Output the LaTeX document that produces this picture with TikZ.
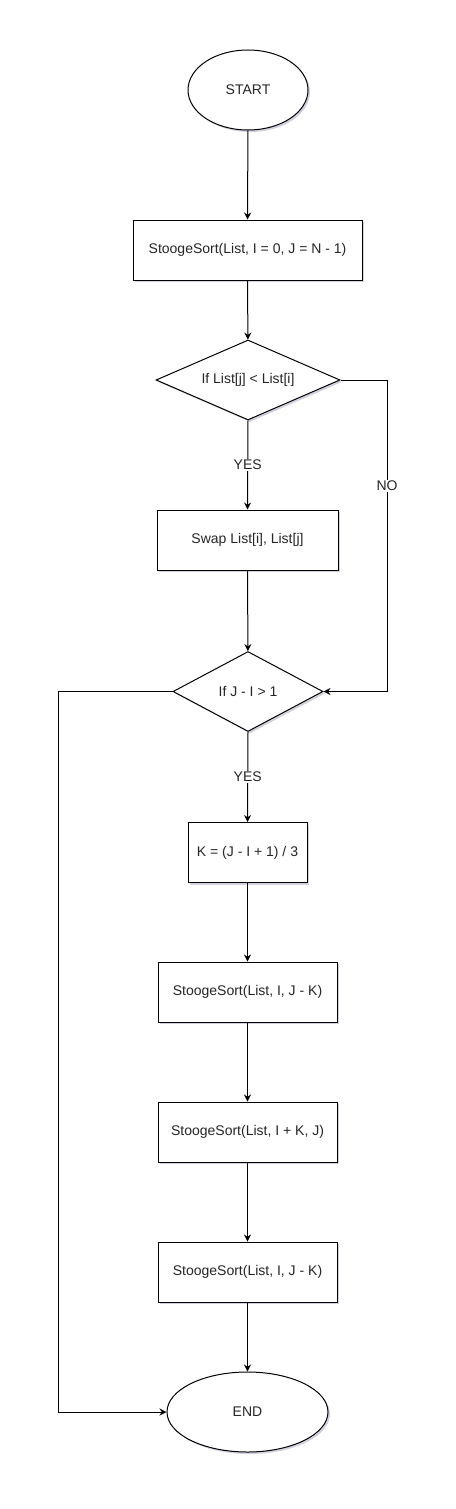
\documentclass[tikz,border=0pt]{standalone}
\usepackage{fontspec}
\setmainfont{Liberation Sans}
\usetikzlibrary{shapes.geometric,arrows.meta,shadows}
\begin{document}
\begin{tikzpicture}[x=1pt,y=-1pt,
  font=\fontsize{14}{16}\selectfont,
  every node/.style={text=black!85},
  shade/.style={drop shadow={shadow xshift=2pt,shadow yshift=-2pt,fill=blue!30!black,opacity=0.18}},
  terminal/.style={ellipse,draw,fill=white,line width=1pt,inner sep=0pt,shade},
  procbox/.style={rectangle,draw,fill=white,line width=1pt,minimum height=60pt,inner sep=0pt,shade},
  decision/.style={diamond,draw,fill=white,line width=1pt,inner sep=0pt,minimum height=80pt,shade},
  conn/.style={draw,line width=1pt,-{Stealth[length=7pt,width=7pt]}},
  lbl/.style={fill=white,inner sep=1pt,font=\fontsize{14}{16}\selectfont}
]
\useasboundingbox (0,0) rectangle (455,1509);
\node[terminal,minimum width=120pt,minimum height=80pt] (start) at (248,90) {START};
\node[procbox,minimum width=229pt] (init) at (247.5,250) {StoogeSort(List, I = 0, J = N - 1)};
\node[decision,minimum width=184pt,shape aspect=2.3] (d1) at (248,380) {If List[j] < List[i]};
\node[procbox,minimum width=181pt] (swap) at (247.5,540) {Swap List[i], List[j]};
\node[decision,minimum width=150pt,shape aspect=1.875] (d2) at (248,691.5) {If J - I > 1};
\node[procbox,minimum width=119pt] (k) at (247.5,852.5) {K = (J - I + 1) / 3};
\node[procbox,minimum width=179pt] (s1) at (247.5,992) {StoogeSort(List, I, J - K)};
\node[procbox,minimum width=179pt] (s2) at (247.5,1132) {StoogeSort(List, I + K, J)};
\node[procbox,minimum width=179pt] (s3) at (247.5,1272) {StoogeSort(List, I, J - K)};
\node[terminal,minimum width=161pt,minimum height=80pt] (end) at (247.5,1412) {END};
\coordinate (nocorner) at (387,380);
\coordinate (leftcorner) at (58,691.5);

\path[conn] (start) -- (init);
\path[conn] (init) -- (d1);
\path[conn] (d1.south) -- node[lbl]{YES} (swap.north);
\path[conn] (d1.east) -- (nocorner) |- node[lbl,pos=0.17]{NO} (d2.east);
\path[conn] (swap) -- (d2);
\path[conn] (d2.south) -- node[lbl]{YES} (k.north);
\path[conn] (k) -- (s1);
\path[conn] (s1) -- (s2);
\path[conn] (s2) -- (s3);
\path[conn] (s3) -- (end);
\path[conn] (d2.west) -- (leftcorner) |- (end.west);
\end{tikzpicture}
\end{document}
